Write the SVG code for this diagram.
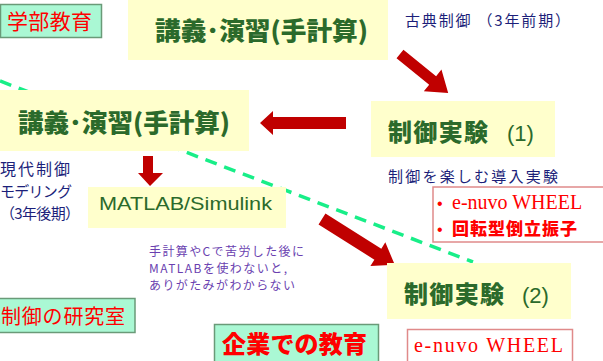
<svg xmlns="http://www.w3.org/2000/svg" width="603" height="361" viewBox="0 0 603 361">
<style>
.yb{fill:#ffffcc}
.mb{fill:#aaf8d4;stroke:#6a9a78;stroke-width:1.5}
.rb{fill:#ffffff;stroke:#e08a8a;stroke-width:1.5}
.jp{font-family:"Noto Sans CJK JP","Noto Sans",sans-serif}
.ttl{font-family:"Noto Sans CJK JP",sans-serif;font-weight:900;fill:#2b6a2b}
.navy{fill:#1c1f7a}
.pur{fill:#6a3fb0}
.red{fill:#ff0000}
.ser{font-family:"Liberation Serif",serif}
.arr{fill:#c00000}
</style>
<rect width="603" height="361" fill="#ffffff"/>
<g id="connectors">
<line x1="0" y1="81" x2="473" y2="262" stroke="#18ee88" stroke-width="3.5" stroke-dasharray="12 8"/>
<polygon class="arr" transform="translate(400,54) rotate(39)" points="0,-5.5 42,-5.5 42,-14 62,0 42,14 42,5.5 0,5.5"/>
<polygon class="arr" points="346,117 273,117 273,111 260,123 273,135 273,129 346,129"/>
<polygon class="arr" points="143,156 153,156 153,173 163,173 150,186 138,173 143,173"/>
<polygon class="arr" transform="translate(322,219) rotate(32.2)" points="0,-6.5 66,-6.5 66,-14 86,0 66,14 66,6.5 0,6.5"/>
</g>
<g id="label-gakubu">
<rect class="mb" x="0.5" y="4.5" width="101" height="33"/>
<text class="jp red" x="7" y="29" font-size="21" textLength="85">学部教育</text>
</g>
<g id="node-lecture1">
<rect class="yb" x="128" y="0" width="260" height="60"/>
<text class="ttl" x="155" y="40" font-size="25" textLength="213" lengthAdjust="spacingAndGlyphs">講義･演習(手計算)</text>
</g>
<text class="jp navy" x="405" y="26" font-size="15" textLength="165">古典制御 （3年前期）</text>
<g id="node-lecture2">
<rect class="yb" x="0" y="90" width="249" height="61"/>
<text class="ttl" x="18" y="132" font-size="25" textLength="212" lengthAdjust="spacingAndGlyphs">講義･演習(手計算)</text>
</g>
<g id="node-exp1">
<rect class="yb" x="371" y="101" width="184" height="56"/>
<text class="ttl" x="388" y="141" font-size="24" textLength="100">制御実験</text>
<text x="507" y="141" font-size="22" fill="#2b6a2b" font-family="Liberation Sans,sans-serif">(1)</text>
</g>
<text class="jp navy" x="388" y="182" font-size="15" textLength="170">制御を楽しむ導入実験</text>
<g id="note-exp1">
<rect class="rb" x="433" y="187" width="175" height="55"/>
<text class="red" x="437" y="209" font-size="16" font-family="Liberation Sans,sans-serif">•</text>
<text class="ser red" x="452" y="209" font-size="20">e-nuvo WHEEL</text>
<text class="red" x="437" y="235" font-size="16" font-family="Liberation Sans,sans-serif">•</text>
<text class="jp red" x="452" y="235" font-size="17" font-weight="900" textLength="125">回転型倒立振子</text>
</g>
<text class="jp navy" x="0" y="175" font-size="16" textLength="70">現代制御</text>
<text class="jp navy" x="0" y="197" font-size="15" textLength="72">モデリング</text>
<text class="jp navy" x="0" y="219" font-size="15" textLength="80">（3年後期）</text>
<g id="node-matlab">
<rect class="yb" x="88" y="187" width="198" height="41"/>
<text x="99" y="210" font-size="19" fill="#2b6a2b" font-family="Liberation Sans,sans-serif" textLength="173" lengthAdjust="spacingAndGlyphs">MATLAB/Simulink</text>
</g>
<g id="note-matlab">
<text class="jp pur" x="149" y="256" font-size="12" textLength="155">手計算やCで苦労した後に</text>
<text class="jp pur" x="149" y="273" font-size="12" textLength="138">MATLABを使わないと,</text>
<text class="jp pur" x="149" y="290" font-size="12" textLength="146">ありがたみがわからない</text>
</g>
<g id="node-exp2">
<rect class="yb" x="387" y="263" width="184" height="56"/>
<text class="ttl" x="404" y="303" font-size="24" textLength="100">制御実験</text>
<text x="522" y="303" font-size="22" fill="#2b6a2b" font-family="Liberation Sans,sans-serif">(2)</text>
</g>
<g id="label-lab">
<rect class="mb" x="-2" y="298.5" width="137" height="34"/>
<text class="jp red" x="1" y="324" font-size="20" textLength="124">制御の研究室</text>
</g>
<g id="label-company">
<rect class="mb" x="214.5" y="324.5" width="164" height="40"/>
<text class="jp red" x="222" y="353" font-size="24" font-weight="900" textLength="145">企業での教育</text>
</g>
<g id="note-exp2">
<rect class="rb" x="407.5" y="329.5" width="165" height="36"/>
<text class="ser red" x="414" y="352" font-size="20" textLength="149">e-nuvo WHEEL</text>
</g>
</svg>
